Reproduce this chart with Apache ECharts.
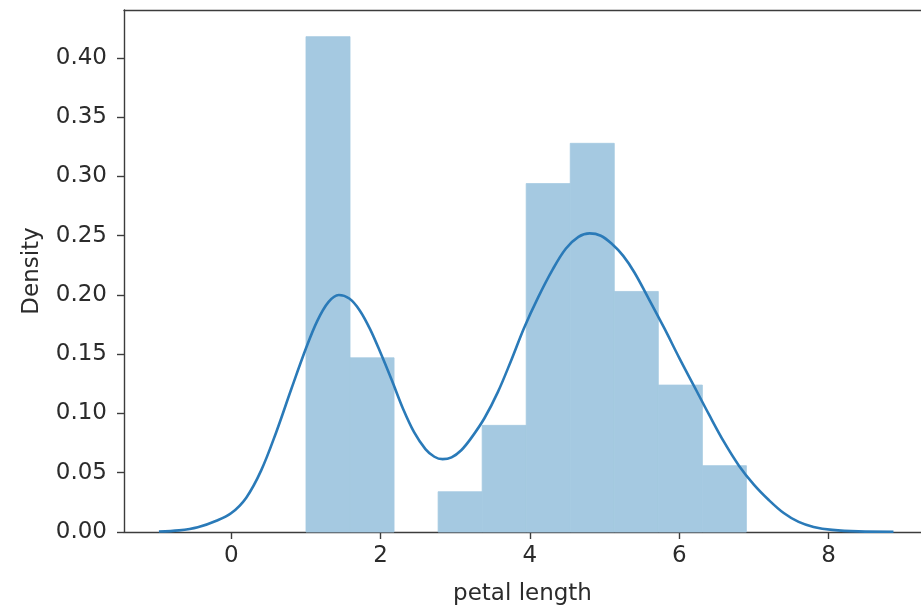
<!DOCTYPE html>
<html>
<head>
<meta charset="utf-8">
<script src="https://cdn.jsdelivr.net/npm/echarts@6/dist/echarts.min.js"></script>
<style>
  html, body { margin: 0; padding: 0; background: #fff; }
  #graph { width: 921px; height: 611px; }
</style>
</head>
<body>
<div id="graph"></div>
<script>
// histogram bins (petal length) and their densities
const binEdges = [1.0, 1.59, 2.18, 2.77, 3.36, 3.95, 4.54, 5.13, 5.72, 6.31, 6.9];
const binDensity = [0.418, 0.147, 0, 0.034, 0.090, 0.294, 0.328, 0.203, 0.124, 0.056];

// kde curve
const kdeX = [-0.97, -0.7, -0.45, -0.2, 0.0, 0.2, 0.4, 0.6, 0.8, 1.0, 1.15, 1.3, 1.44, 1.58, 1.72,
  1.86, 2.0, 2.15, 2.3, 2.45, 2.6, 2.72, 2.83, 2.95, 3.08, 3.21, 3.39, 3.57, 3.75, 3.92, 4.11, 4.3,
  4.48, 4.65, 4.8, 4.95, 5.10, 5.25, 5.40, 5.59, 5.80, 6.0, 6.2, 6.4, 6.6, 6.8, 7.0, 7.2, 7.4, 7.6,
  7.8, 8.05, 8.4, 8.87];
const kdeY = [0.0004, 0.0014, 0.004, 0.0095, 0.016, 0.029, 0.052, 0.084, 0.120, 0.155, 0.178, 0.194,
  0.200, 0.197, 0.187, 0.171, 0.151, 0.128, 0.104, 0.084, 0.070, 0.0635, 0.0615, 0.063, 0.069, 0.079,
  0.096, 0.118, 0.145, 0.172, 0.198, 0.221, 0.239, 0.249, 0.252, 0.250, 0.243, 0.233, 0.219, 0.197,
  0.172, 0.147, 0.123, 0.099, 0.076, 0.056, 0.040, 0.027, 0.016, 0.0085, 0.0043, 0.0018, 0.0005, 0.0002];

const xTicks = [0, 2, 4, 6, 8];
const yTicks = [0, 0.05, 0.10, 0.15, 0.20, 0.25, 0.30, 0.35, 0.40];

const graph = echarts.init(document.getElementById('graph'));

const bars = binDensity.map((d, i) => [binEdges[i], binEdges[i + 1], d]);
const kde = kdeX.map((x, i) => [x, kdeY[i]]);

const font = 'DejaVu Sans';
const fontSize = 23;
const textColor = '#2b2b2b';
const spine = '#3c3c3c';
const barColor = '#a5c9e1';
const xMin = -1.438, xMax = 9.239;

const option = {
  animation: false,
  grid: { left: 124, top: 10, right: 0, bottom: 76 },
  xAxis: [
    {
      type: 'value',
      min: xMin,
      max: xMax,
      name: 'petal length',
      nameLocation: 'middle',
      nameGap: 51,
      nameTextStyle: { fontFamily: font, fontSize: fontSize, color: textColor },
      splitLine: { show: false },
      axisLine: { show: true, onZero: false, lineStyle: { color: spine, width: 1.4 } },
      axisTick: { show: true, length: 7, customValues: xTicks, lineStyle: { color: spine, width: 1.4 } },
      axisLabel: {
        customValues: xTicks, margin: 13,
        fontFamily: font, fontSize: fontSize, color: textColor
      }
    },
    {
      // top spine only
      type: 'value',
      position: 'top',
      min: xMin,
      max: xMax,
      splitLine: { show: false },
      axisLine: { show: true, onZero: false, lineStyle: { color: spine, width: 1.4 } },
      axisTick: { show: false },
      axisLabel: { show: false }
    }
  ],
  yAxis: {
    type: 'value',
    min: 0,
    max: 0.4405,
    name: 'Density',
    nameLocation: 'middle',
    nameGap: 80,
    nameTextStyle: { fontFamily: font, fontSize: fontSize, color: textColor },
    splitLine: { show: false },
    axisLine: { show: true, onZero: false, lineStyle: { color: spine, width: 1.4 } },
    axisTick: { show: true, length: 7, customValues: yTicks, lineStyle: { color: spine, width: 1.4 } },
    axisLabel: {
      customValues: yTicks, margin: 17,
      formatter: v => v.toFixed(2),
      fontFamily: font, fontSize: fontSize, color: textColor
    }
  },
  series: [
    {
      type: 'custom',
      data: bars,
      encode: { x: [0, 1], y: 2 },
      renderItem: (params, api) => {
        if (!api.value(2)) return null; // empty bin
        const p0 = api.coord([api.value(0), api.value(2)]);
        const p1 = api.coord([api.value(1), 0]);
        return {
          type: 'rect',
          shape: { x: p0[0], y: p0[1], width: p1[0] - p0[0], height: p1[1] - p0[1] },
          style: { fill: barColor, stroke: barColor, lineWidth: 0.8 }
        };
      }
    },
    {
      type: 'line',
      data: kde,
      smooth: 0.35,
      showSymbol: false,
      lineStyle: { color: '#2a7ab8', width: 2.6 },
      z: 5
    }
  ]
};
graph.setOption(option);
</script>
</body>
</html>
